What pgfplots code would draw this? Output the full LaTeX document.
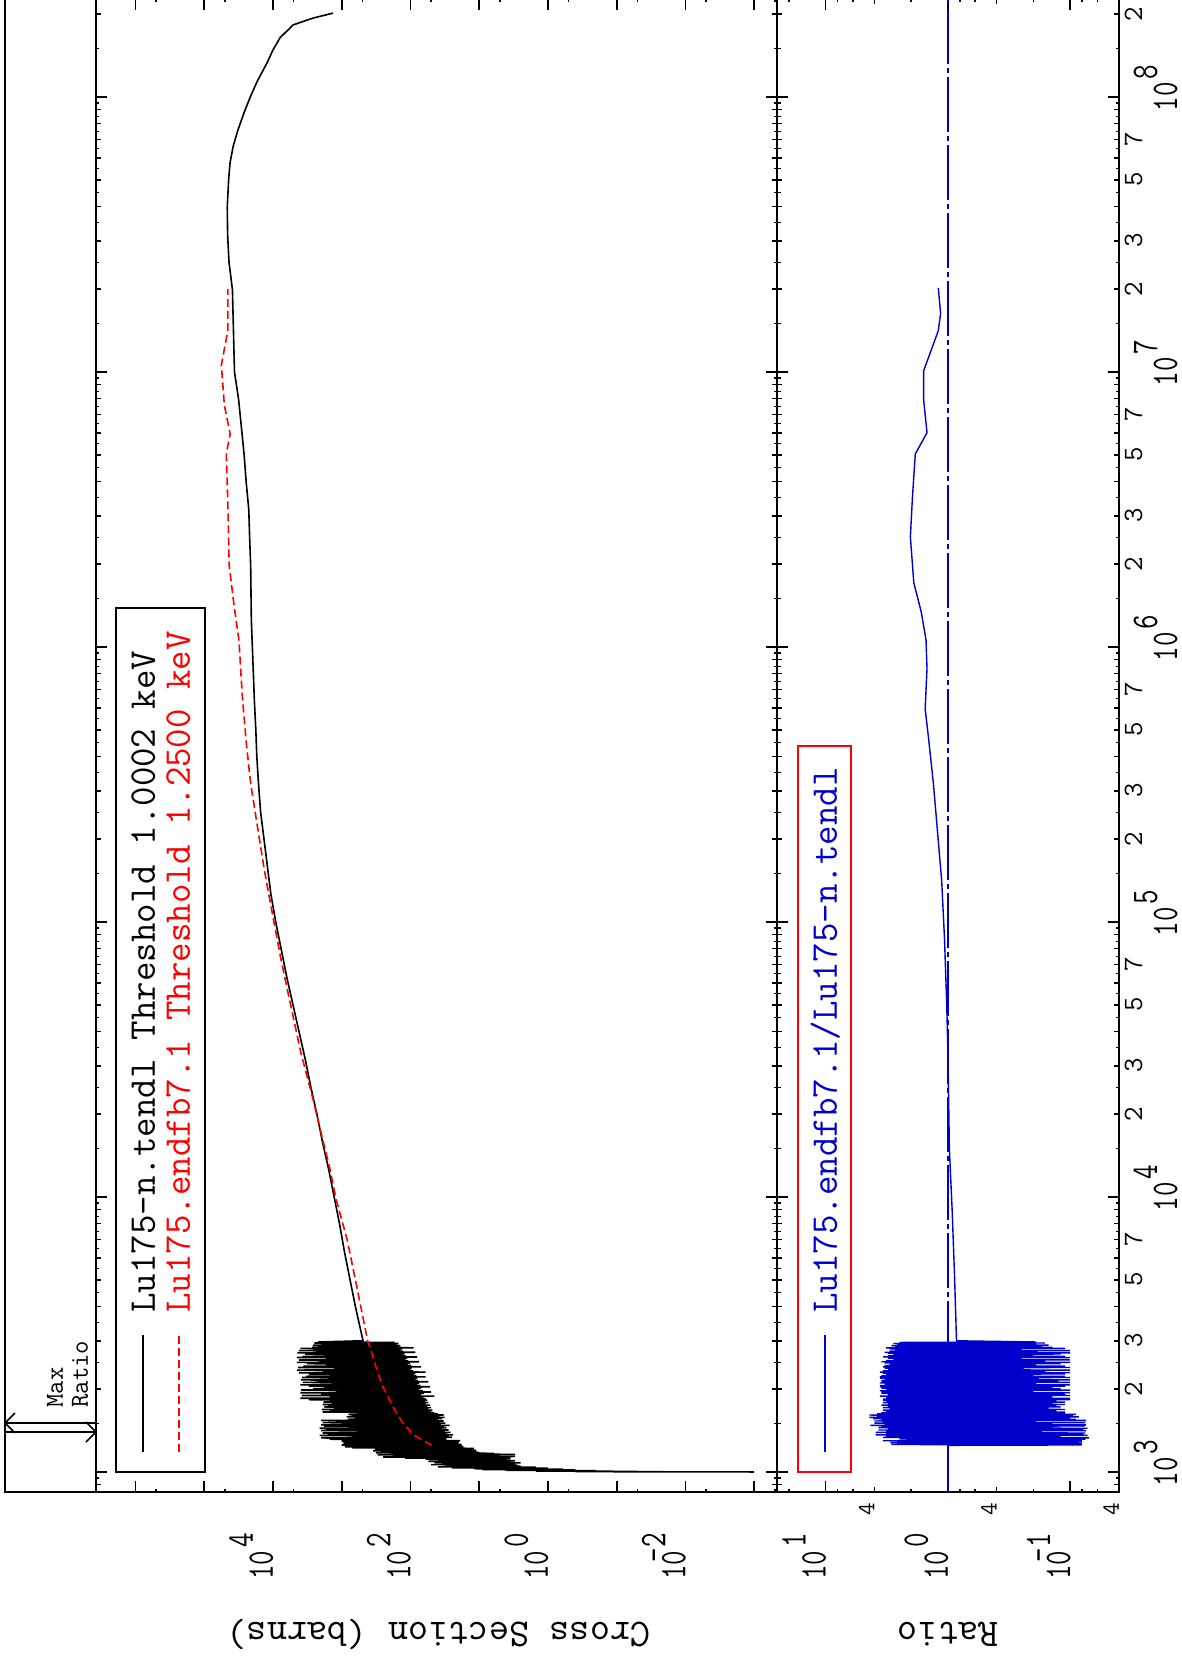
\documentclass[border=0pt]{standalone}
\usepackage{graphicx}
\usepackage{pgfplots}
\usepackage{pgfplotstable}
\pgfplotsset{compat=1.18}
\definecolor{xblue}{RGB}{0,0,205}
\definecolor{xred}{RGB}{255,0,0}
% tick labels: narrow "10" with raised exponent
\newcommand\ex[1]{\scalebox{0.75}[1]{10}\hspace{1.5pt}\raisebox{10pt}{\scalebox{0.75}[1]{#1}}}
\newcommand\exc[1]{\scalebox{0.75}[1]{10}\rlap{\hspace{1.5pt}\raisebox{10pt}{\scalebox{0.75}[1]{#1}}}}

% Lu175-n.tendl
\pgfplotstableread{
E S
1000.2 0.001
1001.5 0.02
1003 0.4
1005 0.05
1008 1.5
1011 0.2
1014 4
1017 0.4
1020 9
1024 0.6
1028 12
1032 1.0
1036 25
1040 1.5
1044 40
1049 2.5
1054 30
1059 2.8
1064 50
1069 3
1074 35
1079 2.5
1084 45
1089 3.5
1094 55
1099 3
1104 40
1109 4
1114 60
1119 3.5
1124 120
1129 4
1134 250
1139 3
1144 180
1149 5
1154 300
1159 3
1164 200
1169 6
1174 320
1179 10
1184 250
1189 12
1194 350
1199 11
1204 280
1209 13
1214 330
1219 12
1224 700
1229 20
1234 900
1239 17
1244 600
1249 25
1254 1000
1259 18
1264 800
1269 22
1274 950
1279 20
1284 700
1289 24
1294 1000
1299 19
1304 850
1309 30
1316 1500
1323 30
1330 2000
1337 25
1344 700
1351 28
1358 2100
1365 24
1372 1600
1379 30
1386 1900
1393 26
1400 600
1407 32
1414 2000
1421 28
1428 1700
1435 35
1442 2100
1449 30
1456 800
1463 33
1470 1800
1477 27
1484 2000
1491 36
1498 900
1505 31
1512 1900
1519 38
1526 700
1533 33
1540 2000
1547 40
1555 800
1563 35
1571 650
1579 32
1587 850
1595 38
1603 700
1611 33
1619 800
1627 40
1635 600
1643 45
1652 1900
1661 50
1670 1500
1679 48
1688 1950
1697 55
1706 1300
1715 50
1724 1800
1733 58
1742 1600
1751 52
1760 1900
1769 60
1778 1400
1787 55
1796 1850
1805 62
1814 1500
1823 57
1832 3000
1843 60
1854 4000
1865 65
1876 1500
1887 45
1898 3800
1909 70
1920 2000
1931 64
1942 4000
1953 50
1964 1200
1975 66
1986 3900
1997 75
2008 2600
2019 70
2030 1800
2041 52
2052 3000
2063 72
2074 4000
2085 80
2096 1400
2107 75
2118 3700
2129 55
2140 2200
2151 78
2162 3900
2173 85
2184 1600
2195 80
2206 3800
2217 60
2228 3300
2239 82
2250 1500
2261 90
2272 3000
2283 85
2295 4200
2308 60
2321 1900
2334 92
2347 4500
2360 100
2373 1300
2386 96
2399 4300
2412 70
2425 3600
2438 98
2451 1700
2464 110
2477 3200
2490 102
2503 4500
2516 75
2529 2100
2542 108
2555 4200
2568 120
2581 1400
2594 112
2607 4500
2620 80
2633 3700
2646 118
2659 1800
2672 130
2685 3400
2698 122
2711 4400
2724 85
2737 2000
2750 128
2763 4200
2776 140
2789 1500
2802 132
2815 4000
2828 90
2841 2700
2854 150
2867 2200
2880 140
2893 2600
2906 160
2919 2000
2932 150
2945 2500
2958 170
2970 2200
3000 490
3981 631
5012 759
6310 912
7943 1072
1.0e4 1288
1.259e4 1549
1.585e4 1905
1.995e4 2291
2.512e4 2818
3.162e4 3388
3.981e4 4169
5.012e4 5129
6.31e4 6310
7.943e4 7586
1e5 9120
1.259e5 10715
1.585e5 12023
1.995e5 13490
2.512e5 15136
3.162e5 16218
3.981e5 17179
5.012e5 17783
6.31e5 18621
7.943e5 19275
1e6 19953
1.259e6 20654
1.585e6 20893
1.995e6 21135
2.512e6 21878
3.162e6 22491
3.981e6 24547
5.012e6 26303
6.31e6 28840
7.943e6 31623
1e7 36308
1.259e7 37154
1.585e7 38019
1.995e7 38905
2.512e7 43652
3.162e7 45709
3.981e7 46238
5.012e7 44157
5.754e7 42170
6.607e7 38019
7.586e7 32359
8.913e7 25704
1e8 21380
1.135e8 17100
1.33e8 12218
1.483e8 10000
1.641e8 7907
1.828e8 5117
1.936e8 2618
2.018e8 1340
}\tendl

% Lu175.endfb7.1
\pgfplotstableread{
E S
1250 49
1303 66
1365 91
1429 107
1507 129
1603 151
1722 178
1862 209
2037 251
2239 288
2489 331
2754 372
2972 417
4710 603
6982 832
9750 1202
1.259e4 1479
1.629e4 1905
2.28e4 2630
3.342e4 3926
4.909e4 5458
7.211e4 7568
1.109e5 10471
1.552e5 13397
2.28e5 17100
3.192e5 21135
4.467e5 24434
6.546e5 27861
1.059e6 31261
1.413e6 36813
1.977e6 43351
3.35e6 45394
5.035e6 47753
5.957e6 41976
7.568e6 50933
1.059e7 56364
1.413e7 45394
2.0e7 45394
}\endfb

% ratio endfb7.1 / tendl
\pgfplotstableread{
E R
845.8 1
1250 1
1254 0.08
1259 2.9
1264 0.083
1269 2.6
1274 0.08
1279 2.95
1284 0.085
1289 2.6
1294 0.08
1299 3.4
1304 0.08
1309 2.2
1316 0.075
1323 2.5
1330 0.07
1337 3.4
1344 0.12
1351 3.2
1358 0.072
1365 3.9
1372 0.078
1379 3.2
1386 0.075
1393 3.9
1400 0.17
1407 3.2
1414 0.074
1421 3.7
1428 0.078
1435 3.1
1442 0.072
1449 3.7
1456 0.14
1463 3.5
1470 0.076
1477 4.3
1484 0.074
1491 3.3
1498 0.14
1505 4.0
1512 0.075
1519 3.4
1526 0.19
1533 4.0
1540 0.074
1547 3.5
1555 0.09
1563 4.1
1571 0.1
1579 4.4
1587 0.085
1595 3.8
1603 0.095
1611 4.4
1619 0.09
1627 3.8
1635 0.11
1643 3.5
1652 0.11
1661 3.2
1670 0.13
1679 3.4
1688 0.11
1697 3.0
1706 0.15
1715 3.4
1724 0.12
1733 3.1
1742 0.13
1751 3.5
1760 0.11
1769 3.1
1778 0.14
1787 3.4
1796 0.11
1805 3.2
1814 0.13
1823 3.4
1832 0.10
1843 3.4
1854 0.10
1865 3.2
1876 0.14
1887 3.6
1898 0.10
1909 3.1
1920 0.11
1931 3.5
1942 0.10
1953 3.5
1964 0.2
1975 3.6
1986 0.10
1997 3.2
2008 0.12
2019 3.5
2030 0.14
2041 3.6
2052 0.11
2063 3.6
2074 0.10
2085 3.3
2096 0.19
2107 3.6
2118 0.10
2129 3.5
2140 0.125
2151 3.5
2162 0.10
2173 3.3
2184 0.18
2195 3.6
2206 0.10
2217 3.6
2228 0.11
2239 3.5
2250 0.2
2261 3.2
2272 0.11
2283 3.4
2295 0.10
2308 3.6
2321 0.16
2334 3.4
2347 0.10
2360 3.1
2373 0.24
2386 3.3
2399 0.10
2412 3.4
2425 0.11
2438 3.3
2451 0.19
2464 3.0
2477 0.12
2490 3.3
2503 0.10
2516 3.5
2529 0.16
2542 3.2
2555 0.10
2568 2.8
2581 0.25
2594 3.1
2607 0.10
2620 3.4
2633 0.11
2646 3.1
2659 0.2
2672 2.8
2685 0.12
2698 3.1
2711 0.10
2724 3.3
2737 0.185
2750 3.0
2763 0.10
2776 2.7
2789 0.25
2802 3.0
2815 0.11
2828 3.2
2841 0.14
2854 2.7
2867 0.17
2880 2.9
2893 0.15
2906 2.6
2919 0.19
2932 2.8
2945 0.16
2958 2.5
2970 0.19
3000 0.851
5012 0.881
8913 0.923
1.493e4 0.973
3.342e4 1.0
5.012e4 1.023
8.73e4 1.067
1.413e5 1.125
1.972e5 1.199
3.192e5 1.315
4.677e5 1.442
5.957e5 1.535
8.337e5 1.483
1.059e6 1.510
1.346e6 1.656
1.71e6 1.901
2.512e6 2.028
3.516e6 1.950
5.035e6 1.849
6.012e6 1.483
7.943e6 1.581
1.009e7 1.581
1.413e7 1.199
1.633e7 1.148
2.023e7 1.199
}\ratio

\pgfplotsset{
  every axis/.append style={
    scale only axis, width=746.5pt, anchor=south west,
    xmode=log, ymode=log,
    xmin=845.8, xmax=2.272e8,
    axis line style={line width=1pt},
    tick style={black, line width=0.8pt},
    major tick length=5.5pt, minor tick length=1.75pt,
    tick align=inside,
    tick label style={font=\ttfamily\fontsize{18.8}{20}\selectfont},
    xticklabel style={anchor=base, inner sep=0pt, yshift=-29pt},
    yticklabel style={anchor=base east, inner sep=0pt, xshift=-20.5pt},
    xtick={1e3,1e4,1e5,1e6,1e7,1e8},
    minor xtick={850,950,
      1.5e3,2.5e3,3.5e3,4.5e3,5.5e3,6.5e3,7.5e3,8.5e3,9.5e3,
      1.5e4,2.5e4,3.5e4,4.5e4,5.5e4,6.5e4,7.5e4,8.5e4,9.5e4,
      1.5e5,2.5e5,3.5e5,4.5e5,5.5e5,6.5e5,7.5e5,8.5e5,9.5e5,
      1.5e6,2.5e6,3.5e6,4.5e6,5.5e6,6.5e6,7.5e6,8.5e6,9.5e6,
      1.5e7,2.5e7,3.5e7,4.5e7,5.5e7,6.5e7,7.5e7,8.5e7,9.5e7,
      1.5e8},
    extra x ticks={900,
      2e3,3e3,4e3,5e3,6e3,7e3,8e3,9e3,
      2e4,3e4,4e4,5e4,6e4,7e4,8e4,9e4,
      2e5,3e5,4e5,5e5,6e5,7e5,8e5,9e5,
      2e6,3e6,4e6,5e6,6e6,7e6,8e6,9e6,
      2e7,3e7,4e7,5e7,6e7,7e7,8e7,9e7,
      2e8},
  }
}

\begin{document}
\rotatebox{90}{%
\begin{tikzpicture}
\useasboundingbox (0pt,0pt) rectangle (830pt,591pt);

% ---------------- cross section panel ----------------
\begin{axis}[
  at={(84pt,202.5pt)}, height=340.5pt,
  ymin=4.667e-4, ymax=3.754e6,
  xticklabels={},
  extra x tick labels={},
  extra x tick style={major tick length=2.75pt, xticklabel style={opacity=0}},
  xticklabel style={opacity=0},
  ytick={1e-3,1e-2,0.1,1,10,100,1e3,1e4,1e5,1e6},
  yticklabels={{},\ex{\llap{-}2},{},\ex{0},{},\ex{2},{},\ex{4},{},{}},
  minor ytick={5e-4,5e-3,0.05,0.5,5,50,500,5e3,5e4,5e5},
]
\addplot[black, line width=0.8pt] table[x=E, y=S] {\tendl};
\addplot[xred, line width=0.8pt, dash pattern=on 4pt off 2pt] table[x=E, y=S] {\endfb};
\end{axis}

% ---------------- ratio panel ----------------
\begin{axis}[
  at={(84pt,31.5pt)}, height=171pt,
  ymin=0.0399, ymax=25,
  xticklabels={\exc{3},\exc{4},\exc{5},\exc{6},\exc{7},\exc{8}},
  extra x tick labels={{},2,3,{},5,{},7,{},{},2,3,{},5,{},7,{},{},2,3,{},5,{},7,{},{},2,3,{},5,{},7,{},{},2,3,{},5,{},7,{},{},2},
  extra x tick style={major tick length=2.75pt,
    xticklabel style={font=\ttfamily\fontsize{14}{14}\selectfont, yshift=17.5pt}},
  ytick={0.1,1,10},
  yticklabels={\ex{\llap{-}1},\ex{0},\ex{1}},
  minor ytick={0.06,0.08,0.2,0.6,0.8,2,6,8,20},
  extra y ticks={0.04,0.4,4},
  extra y tick labels={4,4,4},
  extra y tick style={major tick length=2.75pt,
    yticklabel style={font=\ttfamily\fontsize{12.3}{12}\selectfont, xshift=15.5pt}},
]
\addplot[xblue, line width=0.8pt, dash pattern=on 27.5pt off 2pt on 2.5pt off 2pt]
  coordinates {(845.8,1) (2.272e8,1)};
\addplot[xblue, line width=0.7pt] table[x=E, y=R] {\ratio};
\end{axis}

% outer frame with the Max Ratio strip
\draw[line width=1pt] (84pt,31.5pt) rectangle (830.5pt,588.5pt);
\draw[line width=0.8pt] (118.5pt,543pt) -- (118.5pt,588.5pt);
\draw[line width=0.8pt] (113.5pt,583.5pt) -- (118.5pt,588.5pt) -- (123.5pt,583.5pt);
\draw[line width=0.8pt] (114pt,543pt) -- (114pt,588.5pt);
\draw[line width=0.8pt] (109pt,548pt) -- (114pt,543pt) -- (119pt,548pt);
\node[anchor=base west, inner sep=0pt, font=\ttfamily\fontsize{13}{13}\selectfont] at (126pt,559.5pt) {Max};
\node[anchor=base west, inner sep=0pt, font=\ttfamily\fontsize{13}{13}\selectfont] at (126pt,547pt) {Ratio};

% axis titles
\node[rotate=90, anchor=base, inner sep=0pt, font=\ttfamily\fontsize{19.6}{20}\selectfont] at (18.5pt,371.75pt) {Cross Section (barns)};
\node[rotate=90, anchor=base, inner sep=0pt, font=\ttfamily\fontsize{19.6}{20}\selectfont] at (18.5pt,117pt) {Ratio};

% legend, cross section panel
\draw[line width=1pt, fill=white] (94pt,488.5pt) rectangle (526pt,533pt);
\draw[line width=0.8pt] (104pt,519.5pt) -- (162.5pt,519.5pt);
\draw[xred, line width=0.8pt, dash pattern=on 4pt off 2pt] (104pt,501.5pt) -- (162.5pt,501.5pt);
\node[anchor=base west, inner sep=0pt, font=\ttfamily\fontsize{18.9}{20}\selectfont] at (173.5pt,513.5pt) {Lu175-n.tendl Threshold 1.0002 keV};
\node[anchor=base west, inner sep=0pt, text=xred, font=\ttfamily\fontsize{18.9}{20}\selectfont] at (173.5pt,496pt) {Lu175.endfb7.1 Threshold 1.2500 keV};

% legend, ratio panel
\draw[xred, line width=1pt, fill=white] (94pt,165.5pt) rectangle (457pt,192pt);
\draw[xblue, line width=0.7pt] (104pt,178.5pt) -- (162.5pt,178.5pt);
\node[anchor=base west, inner sep=0pt, text=xblue, font=\ttfamily\fontsize{18.9}{20}\selectfont] at (173.5pt,172.5pt) {Lu175.endfb7.1/Lu175-n.tendl};
\end{tikzpicture}}
\end{document}
